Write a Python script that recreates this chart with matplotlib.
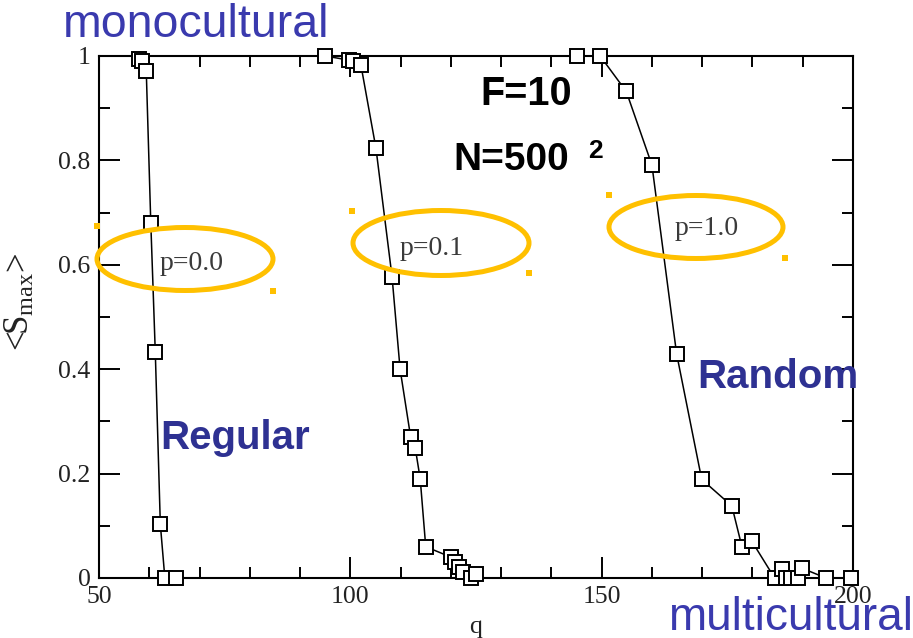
import matplotlib
matplotlib.use("Agg")
import matplotlib.pyplot as plt
from matplotlib.patches import Ellipse, Rectangle
from matplotlib.ticker import MultipleLocator

plt.rcParams["mathtext.fontset"] = "custom"
plt.rcParams["mathtext.rm"] = "Liberation Serif"
plt.rcParams["mathtext.it"] = "Liberation Serif:italic"

# Largest cultural region <S_max> versus q for three rewiring probabilities
q_p00 = [57.9, 58.6, 59.4, 60.3, 61.2, 62.2, 63.1, 65.3]
s_p00 = [0.995, 0.990, 0.972, 0.681, 0.432, 0.103, 0.0, 0.0]

q_p01 = [95.0, 99.8, 100.6, 102.1, 105.1, 108.3, 109.9, 112.0, 112.9,
         113.9, 115.0, 120.0, 120.8, 121.6, 122.4, 124.0, 125.0]
s_p01 = [1.0, 0.992, 0.990, 0.983, 0.823, 0.577, 0.40, 0.27, 0.25,
         0.19, 0.06, 0.04, 0.031, 0.022, 0.012, 0.0, 0.008]

q_p10 = [145.1, 149.7, 154.9, 160.0, 164.9, 169.9, 175.9, 177.9, 179.9,
         184.4, 185.8, 186.6, 187.6, 189.0, 189.8, 194.6, 199.7]
s_p10 = [1.0, 1.0, 0.932, 0.791, 0.430, 0.189, 0.138, 0.06, 0.07,
         0.0, 0.017, 0.0, 0.0, 0.0, 0.019, 0.0, 0.0]

x_ticks = [50, 100, 150, 200]
y_ticks = [0, 0.2, 0.4, 0.6, 0.8, 1]
y_tick_labels = ["0", "0.2", "0.4", "0.6", "0.8", "1"]

W, H = 913, 638
fig = plt.figure(figsize=(W / 100, H / 100), dpi=100)
ax = fig.add_axes([99 / W, 1 - 578 / H, 754 / W, 522 / H])

for q, s in [(q_p00, s_p00), (q_p01, s_p01), (q_p10, s_p10)]:
    ax.plot(q, s, color="black", lw=1.1, marker="s", ms=10.5,
            mfc="white", mec="black", mew=1.4, clip_on=False, zorder=3)

ax.set_xlim(50, 200)
ax.set_ylim(0, 1)
ax.set_xticks(x_ticks)
ax.set_yticks(y_ticks)
ax.set_yticklabels(y_tick_labels)
ax.xaxis.set_minor_locator(MultipleLocator(10))
ax.yaxis.set_minor_locator(MultipleLocator(0.1))
ax.tick_params(which="both", direction="in", top=True, right=True,
               width=1.4, colors="black")
ax.tick_params(which="major", length=15, pad=6)
ax.tick_params(which="minor", length=8)
for lab in ax.get_xticklabels() + ax.get_yticklabels():
    lab.set_fontfamily("Liberation Serif")
    lab.set_fontsize(18.5)
    lab.set_color("#222222")
for sp in ax.spines.values():
    sp.set_linewidth(1.5)

ax.set_xlabel("q", fontfamily="Liberation Serif", fontsize=18.5, color="#222222")
ax.xaxis.set_label_coords(0.499, -0.072)
ax.set_ylabel(r"<S$_{\rm max}$>", fontfamily="Liberation Serif", fontsize=25,
              color="#222222")
ax.yaxis.set_label_coords(-0.082, 0.53)


def fx(px):
    return px / W


def fy(py):
    return 1 - py / H


blue = "#3A3AAE"
dark_blue = "#2E3192"
gold = "#FFC000"

fig.text(fx(63), fy(37), "monocultural", fontfamily="Liberation Sans",
         fontsize=33.5, color=blue, ha="left", va="baseline")
fig.text(fx(668), fy(630), "multicultural", fontfamily="Liberation Sans",
         fontsize=33, color=blue, ha="left", va="baseline")
fig.text(fx(160), fy(449), "Regular", fontfamily="Liberation Sans",
         fontsize=29, fontweight="bold", color=dark_blue, ha="left", va="baseline")
fig.text(fx(697), fy(388), "Random", fontfamily="Liberation Sans",
         fontsize=29, fontweight="bold", color=dark_blue, ha="left", va="baseline")
fig.text(fx(480), fy(105), "F=10", fontfamily="Liberation Sans",
         fontsize=28.5, fontweight="bold", color="black", ha="left", va="baseline")
fig.text(fx(453), fy(170), "N=500", fontfamily="Liberation Sans",
         fontsize=28, fontweight="bold", color="black", ha="left", va="baseline")
fig.text(fx(588), fy(158), "2", fontfamily="Liberation Sans",
         fontsize=19, fontweight="bold", color="black", ha="left", va="baseline")

for txt, x0, base in [("p=0.0", 160, 270), ("p=0.1", 400, 255), ("p=1.0", 675, 235)]:
    fig.text(fx(x0), fy(base), txt, fontfamily="Liberation Serif", fontsize=20,
             color="#3a3a3a", ha="left", va="baseline", zorder=5)

for cx, cy, w, h in [(185, 259, 176, 63), (441, 243, 176, 65), (696, 227, 174, 63)]:
    fig.add_artist(Ellipse((fx(cx), fy(cy)), w / W, h / H, transform=fig.transFigure,
                           fill=False, ec=gold, lw=3.6, zorder=6))

for px, py in [(97, 226), (273, 291), (352, 211), (529, 273), (609, 195), (785, 258)]:
    fig.add_artist(Rectangle((fx(px - 3), fy(py + 3)), 6 / W, 6 / H,
                             transform=fig.transFigure, fc=gold, ec="none", zorder=6))

fig.savefig("out.png", dpi=100)
